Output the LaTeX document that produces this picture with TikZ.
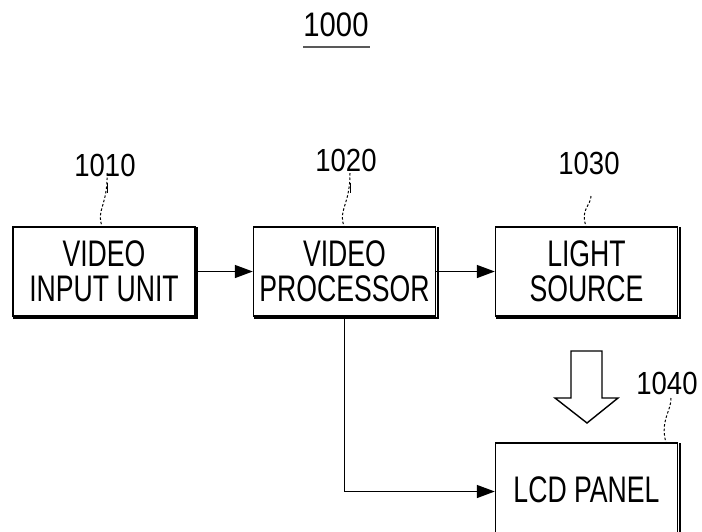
\documentclass[tikz,border=0pt]{standalone}
\usepackage{fontspec}
\usepackage{graphicx}
\setmainfont{Liberation Sans}
\usetikzlibrary{arrows.meta}
\newcommand\cond[1]{\scalebox{0.72}[1]{#1}}
\newcommand\numcond[1]{\scalebox{0.86}[1]{#1}}
\tikzset{
  blk/.style={draw, line width=1.4pt, minimum width=182pt, minimum height=89pt,
    inner sep=0pt, align=center, font=\fontsize{37}{35}\selectfont},
  num/.style={inner sep=0pt, font=\fontsize{32}{32}\selectfont},
  lead/.style={line width=1pt, dash pattern=on 2.5pt off 2pt},
  arr/.style={line width=1.4pt, -{Triangle[length=18pt, width=13pt]}},
  shd/.style={line width=1.6pt},
  hollow/.style={draw, line width=1.4pt, fill=white, line join=miter}
}
\begin{document}
\begin{tikzpicture}[x=1pt, y=-1pt]
\useasboundingbox (0,0) rectangle (702,531);
\clip (0,0) rectangle (702,531);
\fill[white] (0,0) rectangle (702,531);

% title
\node[num, font=\fontsize{34}{34}\selectfont] (title) at (336,25) {\numcond{1000}};
\draw[line width=2pt, gray!70!black] (303,47) -- (370,47);

% boxes
\node[blk] (b1) at (104,271.5) {\cond{VIDEO}\\\cond{INPUT UNIT}};
\node[blk] (b2) at (344.5,271.5) {\cond{VIDEO}\\\cond{PROCESSOR}};
\node[blk] (b3) at (586.5,271.5) {\cond{LIGHT}\\\cond{SOURCE}};
\node[blk, minimum height=93pt] (b4) at (586.5,489.5) {\cond{LCD PANEL}};

% shadow edges
\foreach \b in {b1,b2,b3,b4}{
  \draw[shd] ([shift={(1.5,1)}]\b.north east) -- ([shift={(1.5,1.5)}]\b.south east) -- ([shift={(1,1.5)}]\b.south west);
}

% reference numerals
\node[num] (n1) at (105,165) {\numcond{1010}};
\node[num] (n2) at (346,160) {\numcond{1020}};
\node[num] (n3) at (589,163) {\numcond{1030}};
\node[num] (n4) at (667,383) {\numcond{1040}};

% leader lines
\coordinate (l1) at (107,183);
\coordinate (l2) at (350,183);
\coordinate (l3) at (591,196);
\coordinate (l4) at (671,398);
\draw[line width=1pt] (l1) -- ++(0,10);
\draw[lead] ([yshift=10pt]l1) .. controls (108,205) and (96,210) .. (102,226);
\draw[line width=1pt] (l2) -- ++(0,10);
\draw[lead] ([yshift=10pt]l2) .. controls (350,205) and (338,210) .. (344,226);
\draw[lead] (l3) .. controls (591,205) and (580,210) .. (586,226);
\draw[lead] (l4) .. controls (671,412) and (660,420) .. (666,443);

% connectors
\draw[arr] (b1.east) -- (b2.west);
\draw[arr] (b2.east) -- (b3.west);
\draw[arr] (b2.south) |- ([yshift=-2pt]b4.west);

% hollow light arrow
\draw[hollow] (571,351) -- (602,351) -- (602,398) -- (618,398) -- (587,423)
  -- (555,398) -- (571,398) -- cycle;
\end{tikzpicture}
\end{document}
